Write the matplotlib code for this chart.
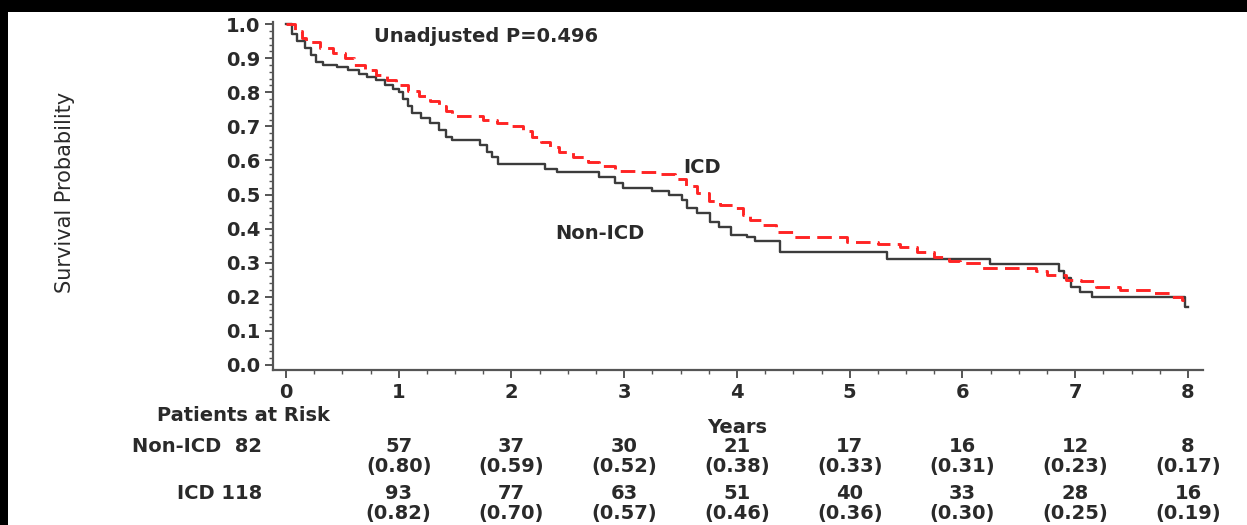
import matplotlib
matplotlib.use("Agg")
import matplotlib.pyplot as plt
from matplotlib.patches import Rectangle
from matplotlib.ticker import MultipleLocator

# Kaplan-Meier estimates (time in years, survival after each step)
non_icd_t = [0, 0.05, 0.10, 0.17, 0.22, 0.27, 0.33, 0.45, 0.55, 0.65, 0.72, 0.80,
             0.88, 0.95, 1.00, 1.04, 1.08, 1.12, 1.20, 1.28, 1.36, 1.42, 1.47, 1.72,
             1.78, 1.83, 1.88, 2.30, 2.40, 2.78, 2.92, 2.99, 3.25, 3.40, 3.51, 3.56,
             3.65, 3.76, 3.84, 3.95, 4.09, 4.16, 4.38, 5.33, 6.24, 6.86, 6.90, 6.96,
             7.04, 7.15, 7.97, 8.00]
non_icd_s = [1.0, 0.97, 0.95, 0.93, 0.91, 0.89, 0.88, 0.875, 0.865, 0.855, 0.845, 0.835,
             0.82, 0.81, 0.80, 0.78, 0.76, 0.74, 0.725, 0.71, 0.69, 0.67, 0.66, 0.645,
             0.625, 0.61, 0.59, 0.575, 0.565, 0.55, 0.535, 0.52, 0.51, 0.50, 0.485, 0.46,
             0.445, 0.42, 0.405, 0.38, 0.375, 0.365, 0.33, 0.31, 0.295, 0.275, 0.255, 0.23,
             0.215, 0.20, 0.17, 0.17]

icd_t = [0, 0.08, 0.14, 0.18, 0.30, 0.42, 0.52, 0.60, 0.70, 0.80, 0.90, 0.98, 1.08,
         1.18, 1.28, 1.36, 1.42, 1.47, 1.75, 1.87, 2.00, 2.10, 2.18, 2.26, 2.34, 2.42,
         2.55, 2.68, 2.78, 2.92, 3.10, 3.30, 3.45, 3.55, 3.65, 3.75, 3.85, 3.97, 4.05,
         4.12, 4.22, 4.35, 4.50, 4.98, 5.25, 5.45, 5.60, 5.75, 5.88, 5.98, 6.16, 6.65,
         6.75, 6.92, 7.05, 7.18, 7.40, 7.70, 7.85, 7.95, 8.00]
icd_s = [1.0, 0.98, 0.96, 0.948, 0.93, 0.915, 0.90, 0.88, 0.865, 0.85, 0.835, 0.82, 0.805,
         0.79, 0.775, 0.76, 0.745, 0.73, 0.72, 0.71, 0.70, 0.685, 0.67, 0.655, 0.64, 0.625,
         0.61, 0.595, 0.585, 0.57, 0.565, 0.56, 0.545, 0.525, 0.505, 0.48, 0.47, 0.46, 0.44,
         0.425, 0.41, 0.39, 0.375, 0.36, 0.355, 0.345, 0.33, 0.318, 0.305, 0.30, 0.285, 0.275,
         0.265, 0.25, 0.245, 0.23, 0.22, 0.21, 0.20, 0.19, 0.19]

# patients at risk table
years = [1, 2, 3, 4, 5, 6, 7, 8]
non_icd_n0, icd_n0 = 82, 118
non_icd_risk = [57, 37, 30, 21, 17, 16, 12, 8]
non_icd_surv = [0.80, 0.59, 0.52, 0.38, 0.33, 0.31, 0.23, 0.17]
icd_risk = [93, 77, 63, 51, 40, 33, 28, 16]
icd_surv = [0.82, 0.70, 0.57, 0.46, 0.36, 0.30, 0.25, 0.19]

txt = "#2a2a2a"
bold = dict(family="DejaVu Sans", weight="bold", color=txt, fontsize=14)

fig = plt.figure(figsize=(12.47, 5.25), dpi=100, facecolor="black")
fig.add_artist(Rectangle((8 / 1247, 0), 1, 1 - 12 / 525, transform=fig.transFigure,
                         facecolor="white", edgecolor="none", zorder=-5))

ax = fig.add_axes([0.2189, 0.2952, 0.7458, 0.6628])
ax.set_facecolor("none")

ax.step(non_icd_t, non_icd_s, where="post", color="#3c3c3c", lw=1.7, zorder=3)
ax.step(icd_t, icd_s, where="post", color="#ff2424", lw=2.1, dashes=(5, 2.5), zorder=4)

ax.set_xlim(-0.115, 8.133)
ax.set_ylim(-0.015, 1.006)
for s in ["top", "right"]:
    ax.spines[s].set_visible(False)
for s in ["left", "bottom"]:
    ax.spines[s].set_color("#555555")
    ax.spines[s].set_linewidth(1.6)

ax.xaxis.set_major_locator(MultipleLocator(1))
ax.xaxis.set_minor_locator(MultipleLocator(0.25))
ax.yaxis.set_major_locator(MultipleLocator(0.1))
ax.yaxis.set_minor_locator(MultipleLocator(0.02))
ax.tick_params(which="major", length=6, width=1.4, color="#555555", pad=3)
ax.tick_params(which="minor", length=3, width=1.0, color="#555555")
ax.set_yticks([i / 10 for i in range(11)])
ax.set_yticklabels([f"{i / 10:.1f}" for i in range(11)])
for lab in ax.get_xticklabels() + ax.get_yticklabels():
    lab.set_fontproperties({"family": "DejaVu Sans", "weight": "bold", "size": 14})
    lab.set_color(txt)

fig.text(65 / 1247, 1 - 192 / 525, "Survival Probability", rotation=90,
         ha="center", va="center", fontsize=15, color=txt,
         family=["Liberation Sans Narrow", "DejaVu Sans"])

ax.text(0.78, 0.965, "Unadjusted P=0.496", ha="left", va="center", **bold)
ax.text(3.52, 0.578, "ICD", ha="left", va="center", **bold)
ax.text(2.39, 0.387, "Non-ICD", ha="left", va="center", **bold)

# risk table under the axis
ax.text(4.0, -0.185, "Years", ha="center", va="center", clip_on=False, **bold)
ax.text(-0.38, -0.147, "Patients at Risk", ha="center", va="center", clip_on=False, **bold)
ax.text(-0.21, -0.240, f"Non-ICD  {non_icd_n0}", ha="right", va="center", clip_on=False, **bold)
ax.text(-0.21, -0.378, f"ICD {icd_n0}", ha="right", va="center", clip_on=False, **bold)
for x, n, p in zip(years, non_icd_risk, non_icd_surv):
    ax.text(x, -0.240, str(n), ha="center", va="center", clip_on=False, **bold)
    ax.text(x, -0.299, f"({p:.2f})", ha="center", va="center", clip_on=False, **bold)
for x, n, p in zip(years, icd_risk, icd_surv):
    ax.text(x, -0.378, str(n), ha="center", va="center", clip_on=False, **bold)
    ax.text(x, -0.437, f"({p:.2f})", ha="center", va="center", clip_on=False, **bold)

fig.savefig("out.png", dpi=100, facecolor=fig.get_facecolor())
